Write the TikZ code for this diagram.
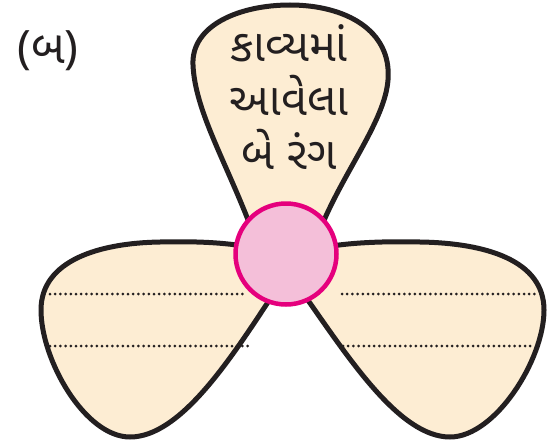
\documentclass[tikz,border=0pt]{standalone}
\usepackage{fontspec}
\newfontfamily\guj[Script=Gujarati]{Noto Sans Gujarati UI}
\newfontfamily\notosans{Noto Sans}
\definecolor{petalfill}{HTML}{FDEDD3}
\definecolor{outline}{HTML}{231F20}
\definecolor{hubfill}{HTML}{F4BFD9}
\definecolor{hubline}{HTML}{E5007D}
\tikzset{
  petal/.style={fill=petalfill, draw=outline, line width=5pt, line join=round},
  dotline/.style={draw=outline, line width=3pt, line cap=round, dash pattern=on 0pt off 5.2pt},
  hub/.style={circle, fill=hubfill, draw=hubline, line width=4.5pt, minimum size=101pt, inner sep=0pt},
  gujtext/.style={align=center, font=\guj\fontsize{45}{54}\selectfont, text=outline, inner sep=0pt}
}
\begin{document}
\begin{tikzpicture}[x=1pt,y=-1pt]
\path[use as bounding box, fill=white] (0,0) rectangle (553,444);
% top petal
\path[petal] (250,225) .. controls (225,160) and (195,110) .. (193,65)
  .. controls (191,25) and (240,5) .. (290,5)
  .. controls (345,5) and (392,30) .. (388,80)
  .. controls (385,120) and (345,170) .. (322,225) -- cycle;
% left petal
\path[petal] (272,296) .. controls (230,360) and (180,437) .. (130,437)
  .. controls (85,437) and (41,360) .. (41,310)
  .. controls (41,260) and (100,243) .. (160,242)
  .. controls (200,241) and (230,243) .. (255,248) -- cycle;
% right petal
\path[petal] (305,296) .. controls (350,360) and (400,437) .. (450,437)
  .. controls (495,437) and (544,360) .. (544,310)
  .. controls (544,260) and (485,243) .. (420,242)
  .. controls (380,241) and (345,243) .. (320,248) -- cycle;
% dotted writing lines
\coordinate (l1a) at (50,294); \coordinate (l1b) at (247,294);
\coordinate (l2a) at (50,346); \coordinate (l2b) at (248,346);
\coordinate (r1a) at (342,294); \coordinate (r1b) at (538,294);
\coordinate (r2a) at (343,346); \coordinate (r2b) at (533,346);
\draw[dotline] (l1a) -- (l1b);
\draw[dotline] (l2a) -- (l2b);
\draw[dotline] (r1a) -- (r1b);
\draw[dotline] (r2a) -- (r2b);
% hub
\node[hub] (center) at (286,254) {};
% texts
\node[gujtext] (title) at (289,97) {કાવ્યમાં\\આવેલા\\બે રંગ};
\node[font=\fontsize{46}{50}\selectfont, text=outline, inner sep=0pt] (label) at (48,51) {{\notosans (}{\guj બ}{\notosans )}};
\end{tikzpicture}
\end{document}
